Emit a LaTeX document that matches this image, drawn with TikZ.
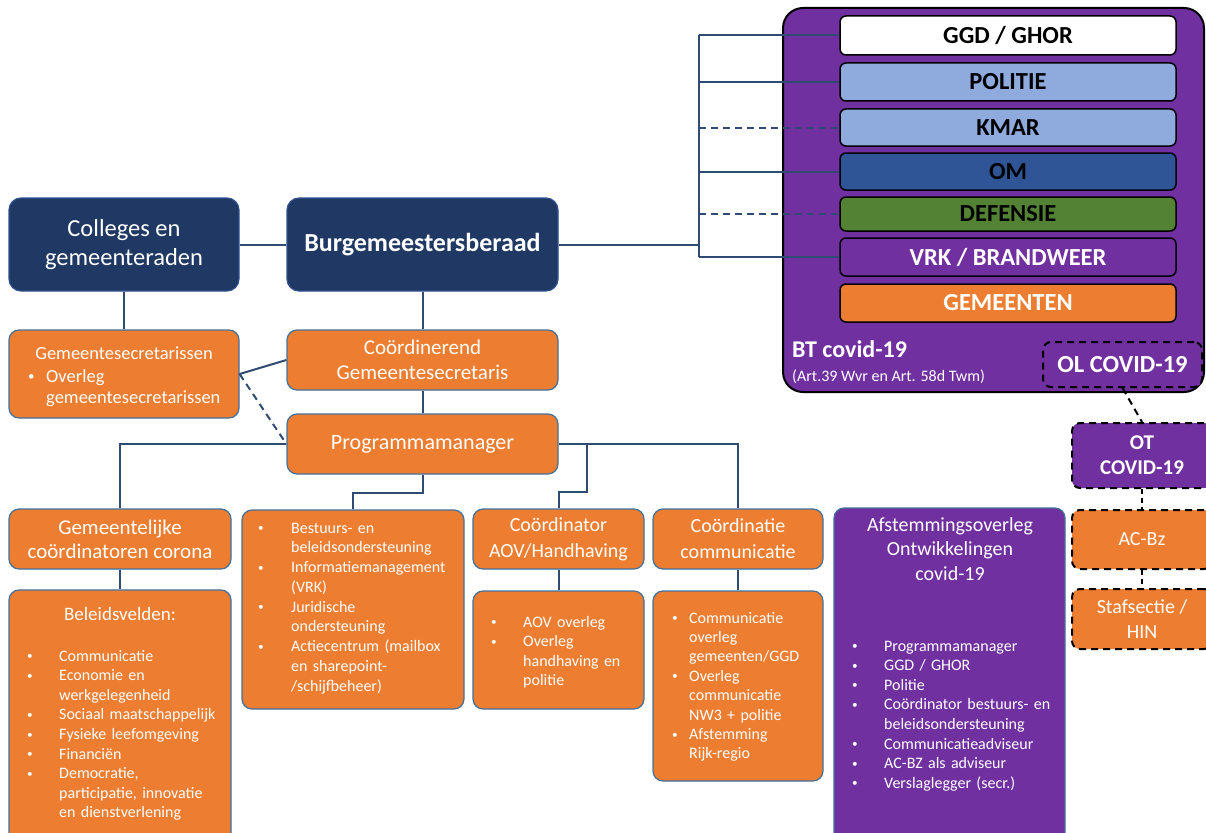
\documentclass[tikz,border=0pt]{standalone}
\usepackage{fontspec}
\usepackage{graphicx}
\setmainfont{Carlito}
\usetikzlibrary{calc}
\definecolor{navy}{HTML}{203864}
\definecolor{navyb}{HTML}{2F528F}
\definecolor{orng}{HTML}{ED7D31}
\definecolor{orngb}{HTML}{41719C}
\definecolor{purp}{HTML}{7030A0}
\definecolor{lblue}{HTML}{8FAADC}
\definecolor{omblue}{HTML}{2F5597}
\definecolor{dgreen}{HTML}{548235}
\definecolor{linec}{HTML}{2F4A73}
\newcommand\bx[7]{\node[#1, minimum width={#5-#3}, minimum height={#6-#4}] (#2) at ({(#3+#5)/2},{(#4+#6)/2}) {#7};}
\newcommand\fs[2]{\fontsize{#1}{#2}\selectfont}
\newcommand\bu[1]{\makebox[#1][l]{\raisebox{0.08em}{\scalebox{0.7}{\textbullet}}}}
\newcommand\ii[1]{\hspace*{#1}}
\tikzset{
  basebox/.style={inner sep=0pt, align=center, text=white},
  nbox/.style={basebox, draw=navyb, line width=1.2pt, fill=navy, rounded corners=12pt},
  obox/.style={basebox, draw=orngb, line width=1.2pt, fill=orng, rounded corners=10pt},
  pbox/.style={basebox, draw=orngb, line width=1.2pt, fill=purp, rounded corners=10pt},
  btbox/.style={basebox, draw=black, line width=2pt, fill=purp, rounded corners=20pt},
  inbox/.style={basebox, draw=black, line width=1.5pt, rounded corners=6pt, font=\fs{24.5}{28}\bfseries},
  dbox/.style={basebox, draw=black, line width=2pt, dash pattern=on 7pt off 5pt, rounded corners=8pt},
  lst/.style={anchor=base west, inner sep=0pt, text=white, align=left, text width=#1},
  conn/.style={draw=linec, line width=2pt},
  dconn/.style={conn, dash pattern=on 7pt off 5pt},
}
\begin{document}
\begin{tikzpicture}[x=1pt,y=-1pt]
\clip (0,0) rectangle (1206,832);
\fill[white] (0,0) rectangle (1206,832);

% ---------- BT covid-19 block ----------
\bx{btbox}{bt}{783}{8}{1204}{392}{}
\bx{inbox, fill=white, text=black}{ggd}{840}{16}{1176}{55}{GGD / GHOR}
\bx{inbox, fill=lblue, text=black}{pol}{840}{63}{1176}{101}{POLITIE}
\bx{inbox, fill=lblue, text=black}{kmar}{840}{109}{1176}{146}{KMAR}
\bx{inbox, fill=omblue, text=black}{om}{840}{153}{1176}{190}{OM}
\bx{inbox, fill=dgreen, text=black}{def}{840}{197}{1176}{231}{DEFENSIE}
\bx{inbox, fill=purp, text=white}{vrk}{840}{238}{1176}{276}{VRK / BRANDWEER}
\bx{inbox, fill=orng, text=white}{gem}{840}{284}{1176}{322}{GEMEENTEN}
\node[anchor=base west, inner sep=0pt, text=white, font=\fs{24}{28}\bfseries] (btt) at (792,357) {BT covid-19};
\node[anchor=base west, inner sep=0pt, text=white, font=\fs{16}{19}] (bta) at (792,381) {(Art.39 Wvr en Art. 58d Twm)};
\bx{dbox, fill=purp, font=\fs{24.5}{28}\bfseries}{ol}{1043}{342}{1202}{387}{OL COVID-19}

% ---------- right column ----------
\bx{dbox, fill=purp, font=\fs{21}{25}\bfseries}{ot}{1072}{423}{1212}{488}{OT\\COVID-19}
\bx{dbox, fill=orng, font=\fs{20}{25}}{acbz}{1072}{510}{1212}{569}{AC-Bz}
\bx{dbox, fill=orng, font=\fs{20}{25}}{staf}{1072}{589}{1212}{649}{Stafsectie /\\HIN}

% ---------- top left ----------
\bx{nbox, font=\fs{24.5}{29}}{col}{9}{198}{239}{291}{Colleges en\\gemeenteraden}
\bx{nbox, font=\fs{26}{30}\bfseries}{burg}{287}{198}{558}{291}{Burgemeestersberaad}
\bx{obox}{gs}{9}{330}{239}{418}{}
\node[anchor=base, inner sep=0pt, text=white, font=\fs{18.5}{21}] (gst) at (124,359) {Gemeentesecretarissen};
\node[lst=200pt, font=\fs{18.5}{21}] (gsl) at (28,382) {\bu{18pt}Overleg\\\ii{18pt}gemeentesecretarissen};
\bx{obox, font=\fs{21}{25}}{coord}{287}{330}{558}{390}{Coördinerend\\Gemeentesecretaris}
\bx{obox, font=\fs{22}{26}}{prog}{287}{414}{558}{474}{Programmamanager}

% ---------- second level ----------
\bx{obox, font=\fs{21}{24}}{gco}{9}{509}{231}{569}{Gemeentelijke\\coördinatoren corona}
\bx{obox}{bel}{9}{590}{231}{850}{}
\node[anchor=base, inner sep=0pt, text=white, font=\fs{19}{22}] (belt) at (120,620) {Beleidsvelden:};
\node[lst=200pt, font=\fs{16}{19.6}] (bell) at (27,661) {\bu{32pt}Communicatie\\
\bu{32pt}Economie en\\\ii{32pt}werkgelegenheid\\
\bu{32pt}Sociaal maatschappelijk\\
\bu{32pt}Fysieke leefomgeving\\
\bu{32pt}Financiën\\
\bu{32pt}Democratie,\\\ii{32pt}participatie, innovatie\\\ii{32pt}en dienstverlening};

\bx{obox}{best}{242}{510}{464}{709}{}
\node[lst=215pt, font=\fs{16}{19.75}] (bestl) at (258,533) {\bu{33pt}Bestuurs- en\\\ii{33pt}beleidsondersteuning\\
\bu{33pt}Informatiemanagement\\\ii{33pt}(VRK)\\
\bu{33pt}Juridische\\\ii{33pt}ondersteuning\\
\bu{33pt}Actiecentrum (mailbox\\\ii{33pt}en sharepoint-\\\ii{33pt}/schijfbeheer)};

\bx{obox, font=\fs{20}{26}}{aovt}{473}{509}{644}{569}{Coördinator\\AOV/Handhaving}
\bx{obox}{aovd}{473}{591}{644}{709}{}
\node[lst=160pt, font=\fs{16}{19.6}] (aovl) at (491,627) {\bu{32pt}AOV overleg\\
\bu{32pt}Overleg\\\ii{32pt}handhaving en\\\ii{32pt}politie};

\bx{obox, font=\fs{20}{26}}{comt}{653}{509}{823}{569}{Coördinatie\\communicatie}
\bx{obox}{comd}{653}{591}{823}{781}{}
\node[lst=160pt, font=\fs{16}{19.4}] (coml) at (672,623) {\bu{17pt}Communicatie\\\ii{17pt}overleg\\\ii{17pt}gemeenten/GGD\\
\bu{17pt}Overleg\\\ii{17pt}communicatie\\\ii{17pt}NW3 + politie\\
\bu{17pt}Afstemming\\\ii{17pt}Rijk-regio};

\bx{pbox}{afs}{834}{508}{1065}{850}{}
\node[inner sep=0pt, text=white, align=center, font=\fs{20}{24.5}] (afst) at (950,549) {Afstemmingsoverleg\\Ontwikkelingen\\covid-19};
\node[lst=220pt, font=\fs{16}{19.6}] (afsl) at (852,651) {\bu{32pt}Programmamanager\\
\bu{32pt}GGD / GHOR\\
\bu{32pt}Politie\\
\bu{32pt}Coördinator bestuurs- en\\\ii{32pt}beleidsondersteuning\\
\bu{32pt}Communicatieadviseur\\
\bu{32pt}AC-BZ als adviseur\\
\bu{32pt}Verslaglegger (secr.)};

% ---------- connectors ----------
\coordinate (bus) at (699,244);
\coordinate (pj) at (587,444);
\draw[conn] (col) -- (burg);
\draw[conn] (col.south) -- (gs.north);
\draw[conn] (burg.south) -- (coord.north);
\draw[conn] (coord.south) -- (prog.north);
\draw[conn] (gs.east) -- (coord.west);
\draw[dconn] (gs.east) -- (prog.west);
\draw[conn] (prog.west) -| (gco.north);
\draw[conn] (prog.south) -- ++(0,18) -| (best.north);
\draw[conn] (prog.east) -| (comt.north);
\draw[conn] (pj) -- ++(0,48) -| (aovt.north);
\draw[conn] (gco.south) -- (bel.north);
\draw[conn] (aovt.south) -- (aovd.north);
\draw[conn] (comt.south) -- (comd.north);

\draw[conn] (burg.east) -- (burg.east -| bus);
\draw[conn] (ggd.west -| bus) -- (vrk.west -| bus);
\draw[conn] (ggd.west -| bus) -- (ggd.west);
\draw[conn] (pol.west -| bus) -- (pol.west);
\draw[dconn] (kmar.west -| bus) -- (kmar.west);
\draw[conn] (om.west -| bus) -- (om.west);
\draw[dconn] (def.west -| bus) -- (def.west);
\draw[conn] (vrk.west -| bus) -- (vrk.west);

\draw[black, line width=2pt, dash pattern=on 7pt off 5pt] (ol.south) -- (ot.north);
\draw[black, line width=2pt, dash pattern=on 5pt off 4pt] (ot.south) -- (acbz.north);
\draw[black, line width=2pt, dash pattern=on 5pt off 4pt] (acbz.south) -- (staf.north);
\end{tikzpicture}
\end{document}
